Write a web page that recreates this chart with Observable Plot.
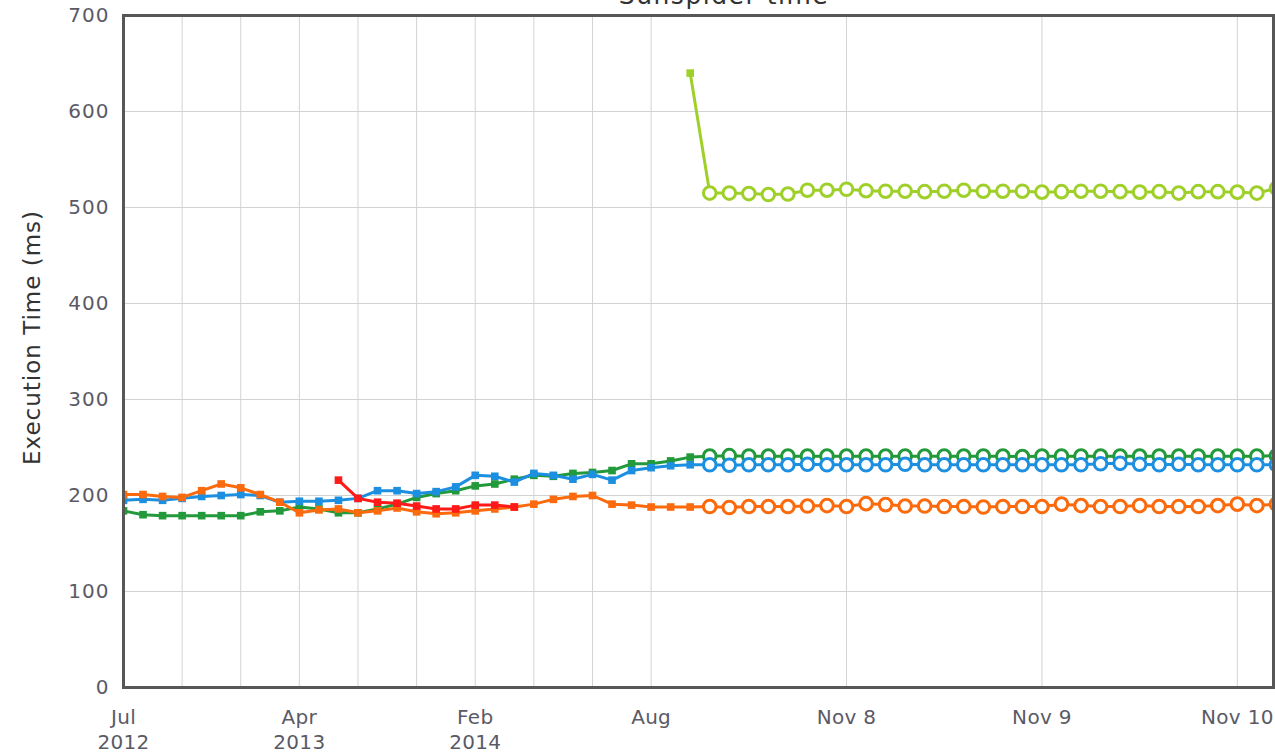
<!DOCTYPE html>
<html>
<head>
<meta charset="utf-8">
<script src="https://cdn.jsdelivr.net/npm/d3@7"></script>
<script src="https://cdn.jsdelivr.net/npm/@observablehq/plot@0.6"></script>
<style>
  html, body { margin: 0; padding: 0; background: white; overflow: hidden; }
  #wrap { position: relative; width: 1275px; height: 754px; }
  #title { position: absolute; top: -17px; left: 574px; width: 300px; text-align: center; line-height: 25px;
           font-family: "DejaVu Sans", sans-serif; font-size: 25px; color: #333; letter-spacing: 1.5px; }
</style>
</head>
<body>
<div id="wrap"><div id="title">Sunspider time</div></div>
<script>
// point index 0..59 (ordinal x axis, evenly spaced points)
const tickIndex = [0, 9, 18, 27, 37, 47, 57];
const tickLabels = ["Jul\n2012", "Apr\n2013", "Feb\n2014", "Aug", "Nov 8", "Nov 9", "Nov 10"];
const gridIndex = [0, 3, 6, 9, 12, 15, 18, 21, 24, 27, 37, 47, 57];
const yTicks = [0, 100, 200, 300, 400, 500, 600, 700];
const circleStart = 30; // points from this index on are drawn as open circles

const seriesNames = ["green", "blue", "orange", "red", "lime"];
const seriesColors = ["#22993a", "#1d8fe0", "#fb6a0c", "#ff1a1a", "#9fd02a"];

const greenValues = [184,180,179,179,179,179,179,183,184,188,186,182,182,186,191,198,202,205,210,212,217,221,220,223,224,226,233,233,236,240,
  241,241.5,241,241,241,241,241,241,241,241,241,241,241,241,241,241,240.5,241,241,241,241,241,241,241,241,241,241,241,241,241.5];
const blueValues = [195,196,195,197,199,200,201,200,193,194,194,195,197,205,205,202,204,209,221,220,214,223,221,217,222,216,226,229,231,232,
  232,231.5,232,232,232,232.5,232,232,232,232,232.5,232,232,232,232,232,232,232,232,232,233,233.5,232.5,232,232.5,232,232,232,232,232];
const orangeValues = [201,201,199,198,205,212,208,201,193,182,185,186,182,184,187,183,181,182,184,186,188,191,196,199,200,191,190,188,188,188,
  188.5,187.5,188.5,188.5,188.5,189,189.5,188.5,191.5,190.5,189,189,188.5,188.5,188,188.5,188.5,188.5,191,189.5,188.5,188.5,189.5,188.5,188.5,188.5,189.5,191,189.5,191];
const redValues = [null,null,null,null,null,null,null,null,null,null,null,216,197,193,192,189,186,186,190,190,188];
const limeValues = [null,null,null,null,null,null,null,null,null,null,null,null,null,null,null,null,null,null,null,null,null,null,null,null,null,null,null,null,null,640,
  515,515,514.5,513.5,514,518,518,519,517.5,517,517,516.5,517,518,517,517,517,516,516.5,517,517,516.5,516,516.5,515,516.5,516.5,516,515,520];

const allValues = [greenValues, blueValues, orangeValues, redValues, limeValues];

const marks = [
  Plot.ruleY(yTicks, {y: d => d, stroke: "#d3d3d3", strokeWidth: 1}),
  Plot.ruleX(gridIndex, {x: d => d, stroke: "#d3d3d3", strokeWidth: 1})
];

seriesNames.forEach((name, k) => {
  const rows = [];
  allValues[k].forEach((v, i) => { if (v != null) rows.push({i, v, s: name}); });
  const color = seriesColors[k];
  marks.push(Plot.line(rows, {x: "i", y: "v", stroke: color, strokeWidth: 3, clip: true}));
  marks.push(Plot.dot(rows.filter(d => d.i < circleStart), {x: "i", y: "v", symbol: "square", r: 4.3, fill: color, clip: true}));
  marks.push(Plot.dot(rows.filter(d => d.i >= circleStart), {x: "i", y: "v", r: 6.3, fill: "white", stroke: color, strokeWidth: 3, clip: true}));
});

marks.push(Plot.frame({stroke: "#575757", strokeWidth: 3}));
marks.push(Plot.text(tickIndex, {x: d => d, text: (d, i) => tickLabels[i], frameAnchor: "bottom", lineAnchor: "top",
  dy: 19, lineHeight: 1.25, fill: "#5a5a66", fontSize: 20}));
marks.push(Plot.text(["Execution Time (ms)"], {frameAnchor: "left", textAnchor: "middle", dx: -91, dy: -14, rotate: -90,
  fontSize: 23, fill: "#333"}));

const chart = Plot.plot({
  width: 1275, height: 754,
  marginLeft: 123, marginRight: 2, marginTop: 15, marginBottom: 67,
  style: {fontFamily: "DejaVu Sans, sans-serif", fontSize: "20px", color: "#5a5a66", background: "white", letterSpacing: "1px"},
  x: {domain: [0, 58.85], axis: null},
  y: {domain: [0, 700], ticks: yTicks, tickSize: 0, tickPadding: 14, label: null},
  marks
});
// x tick labels: slightly tighter letter spacing so the last label fits
chart.querySelectorAll("text").forEach(t => { if (/^(Jul|Apr|Feb|Aug|Nov)/.test(t.textContent)) t.style.letterSpacing = "0.3px"; });
document.getElementById("wrap").appendChild(chart);
</script>
</body>
</html>
